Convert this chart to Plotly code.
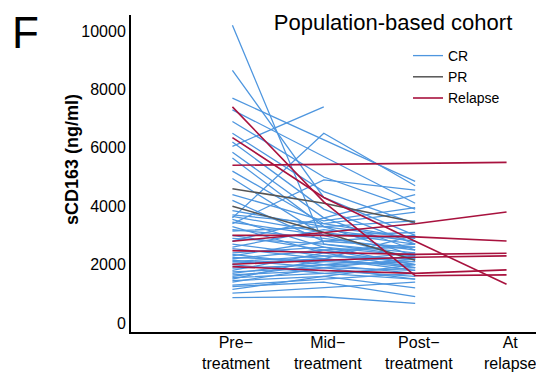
import plotly.graph_objects as go

tick_line1 = ["Pre\u2212", "Mid\u2212", "Post\u2212", "At"]
tick_line2 = ["treatment", "treatment", "treatment", "relapse"]
y_ticks = [0, 2000, 4000, 6000, 8000, 10000]

# CR patients: pre, mid, post (ng/ml)
cr_pre = [10200, 8650, 7700, 7300, 6900, 6500, 6200, 6050, 5850, 5650, 5200, 4950, 4400, 4200,
          3850, 3650, 3600, 3550, 3450, 3400, 3300, 3200, 3150, 2900, 2800, 2700, 2600, 2550,
          2400, 2350, 2300, 2250, 2200, 2150, 2100, 2050, 1880, 1800, 1750, 1700, 1650, 1600,
          1550, 1500, 1450, 1400, 1300, 1250, 1150, 1020, 870, 3700, 3000, 2000]
cr_mid = [2700, 4300, None, None, 5000, 4500, 3900, 7400, 3600, 3300, 3400, 3000, 3500, 2800,
          3300, 3100, 6500, 2600, 3000, 4900, 2400, 2900, 3300, 2700, 3600, 2300, 3200, 2200,
          2600, 2000, 2800, 2100, 2500, 1900, 2300, 2200, 2000, 2400, 1900, 2100, 1800, 2000,
          1700, 2200, 1600, 1900, 1500, 1400, 1600, 1200, 900, 3400, 2500, 1700]
cr_post = [2300, 3000, 4850, 4100, 3900, 3400, 2700, None, 2500, 2300, 2900, 2200, 3950, 2600,
           2900, 2700, 4700, 2000, 3100, 4550, 1900, 2500, 3500, 2400, 4400, 2100, 2800, 1800,
           2300, 1700, 3000, 2000, 2600, 1500, 2200, 1900, 2100, 2700, 1800, 2400, 1600, 2300,
           1900, 3000, 1200, 2200, 1700, 900, 2000, 1400, 670, 3800, 2000, 1500]

# PR patients
pr_pre = [4600, 4000]
pr_mid = [4100, 3100]
pr_post = [3450, 2150]

# Relapse patients: pre, mid, post, at relapse
rel_pre = [7400, 6350, 5400, 2800, 3000, 2480, 2010, 1930]
rel_mid = [4150, 4300, None, 3100, 3000, 2420, 2150, 1800]
rel_post = [1620, 2800, None, 3400, 2950, 2350, 2250, 1700]
rel_at = [1650, 1330, 5500, 3800, 2810, 2390, 2300, 1820]

colors = {"CR": "#4E96DF", "PR": "#555555", "Relapse": "#A8123E"}
FONT = "Liberation Sans, Arial, sans-serif"

# page offset compensation (body margin of 8px)
OFF = 8
W, H = 544 - OFF, 373 - OFF
L, T, B = 131 - OFF, 15 - OFF, H - (332 - OFF)
PW, PH = W - L, H - T - B


def px_x(page_x):
    return (page_x - OFF - L) / PW


def px_y(page_y):
    return 1 - (page_y - OFF - T) / PH


fig = go.Figure()


def add_group(name, rows, width):
    for i, vals in enumerate(rows):
        xs = list(range(len(vals)))
        fig.add_trace(go.Scatter(
            x=xs, y=list(vals), mode="lines", connectgaps=True,
            line=dict(color=colors[name], width=width),
            name=name, legendgroup=name, showlegend=(i == 0),
            hoverinfo="skip"))


add_group("CR", list(zip(cr_pre, cr_mid, cr_post)), 1.3)
add_group("PR", list(zip(pr_pre, pr_mid, pr_post)), 1.5)
add_group("Relapse", list(zip(rel_pre, rel_mid, rel_post, rel_at)), 1.6)

annotations = []
for i in range(4):
    annotations.append(dict(x=i, y=px_y(353), xref="x", yref="paper", yanchor="middle",
                            text=tick_line1[i] + "<br>" + tick_line2[i], showarrow=False,
                            xshift=4, font=dict(family=FONT, size=16, color="black")))
annotations.append(dict(x=px_x(25), y=px_y(33), xref="paper", yref="paper",
                        xanchor="center", yanchor="middle", text="F", showarrow=False,
                        font=dict(family=FONT, size=44, color="black")))
annotations.append(dict(x=px_x(72), y=px_y(160), xref="paper", yref="paper",
                        xanchor="center", yanchor="middle", textangle=-90,
                        text="<b>sCD163 (ng/ml)</b>", showarrow=False,
                        font=dict(family=FONT, size=18, color="black")))

fig.update_layout(
    width=W, height=H,
    margin=dict(l=L, r=0, t=T, b=B),
    paper_bgcolor="white", plot_bgcolor="white",
    font=dict(family=FONT, color="black"),
    title=dict(text="Population-based cohort", x=(393 - OFF) / W, xanchor="center",
               y=1 - (22 - OFF) / H, yanchor="middle", xref="container", yref="container",
               font=dict(family=FONT, size=22, color="black")),
    showlegend=True,
    legend=dict(x=px_x(408), y=px_y(40), xanchor="left", yanchor="top",
                font=dict(family=FONT, size=14, color="black"),
                bgcolor="rgba(0,0,0,0)", traceorder="normal", tracegroupgap=0),
    annotations=annotations,
)
fig.update_xaxes(range=[-1.11, 3.41], showticklabels=False, ticks="", showgrid=False,
                 zeroline=False, showline=True, linecolor="black", linewidth=2)
fig.update_yaxes(range=[-308, 10548], tickvals=y_ticks, ticktext=[str(v) for v in y_ticks],
                 ticks="", showgrid=False, zeroline=False, showline=True,
                 linecolor="black", linewidth=2,
                 tickfont=dict(family=FONT, size=16, color="black"))

fig.write_html("out.html")
